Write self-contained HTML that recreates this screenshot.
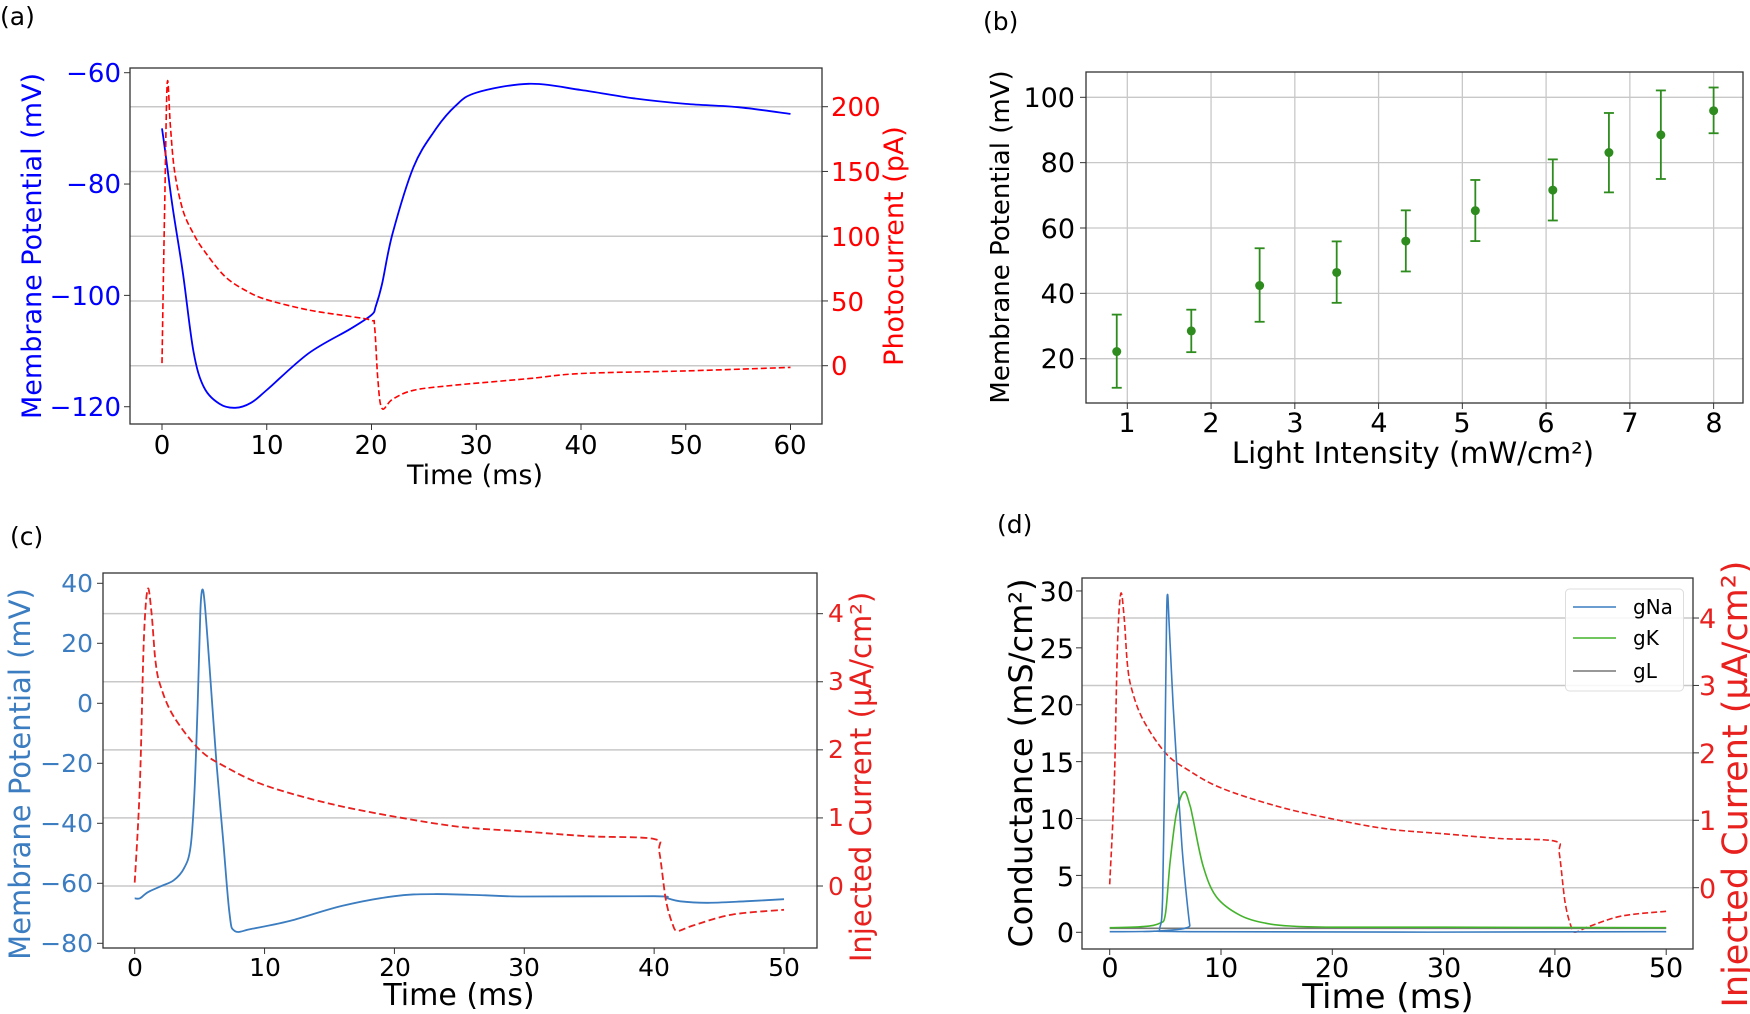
<!DOCTYPE html>
<html><head><meta charset="utf-8"><style>
html,body{margin:0;padding:0;background:#fff;}
svg{display:block;font-family:"DejaVu Sans","Liberation Sans",sans-serif;}
</style></head><body>
<svg id="s" width="1750" height="1014" viewBox="0 0 1750 1014" xmlns="http://www.w3.org/2000/svg">
<rect width="1750" height="1014" fill="#fff"/>
<text x="0" y="25" font-size="25">(a)</text>
<text x="983" y="30" font-size="25">(b)</text>
<text x="10" y="545" font-size="25">(c)</text>
<text x="997" y="533" font-size="25">(d)</text>

<!-- (a) -->
<g id="ga"></g>
<rect x="130" y="68" width="692" height="356" fill="none" stroke="#333" stroke-width="1.3"/>
<g font-size="26" fill="#0000ff" text-anchor="end">
<text x="121" y="82">−60</text><text x="121" y="193">−80</text><text x="121" y="305">−100</text><text x="121" y="416">−120</text>
</g>
<g font-size="26" fill="#ff0000">
<text x="831" y="116">200</text><text x="831" y="181">150</text><text x="831" y="246">100</text><text x="831" y="311">50</text><text x="831" y="375">0</text>
</g>
<g font-size="26" text-anchor="middle">
<text x="162" y="454">0</text><text x="267" y="454">10</text><text x="371" y="454">20</text><text x="476" y="454">30</text><text x="581" y="454">40</text><text x="686" y="454">50</text><text x="790" y="454">60</text>
</g>
<text x="475" y="484" font-size="27" text-anchor="middle">Time (ms)</text>
<text transform="translate(41,246) rotate(-90)" font-size="27" fill="#0000ff" text-anchor="middle">Membrane Potential (mV)</text>
<text transform="translate(903,246) rotate(-90)" font-size="27" fill="#ff0000" text-anchor="middle">Photocurrent (pA)</text>

<!-- (b) -->
<g id="gb"></g>
<rect x="1086" y="72" width="657" height="331" fill="none" stroke="#333" stroke-width="1.3"/>
<g font-size="27" text-anchor="end">
<text x="1075" y="107">100</text><text x="1075" y="172">80</text><text x="1075" y="238">60</text><text x="1075" y="303">40</text><text x="1075" y="368">20</text>
</g>
<g font-size="27" text-anchor="middle">
<text x="1127" y="432">1</text><text x="1211" y="432">2</text><text x="1295" y="432">3</text><text x="1379" y="432">4</text><text x="1462" y="432">5</text><text x="1546" y="432">6</text><text x="1630" y="432">7</text><text x="1714" y="432">8</text>
</g>
<text x="1413" y="463" font-size="29" text-anchor="middle">Light Intensity (mW/cm²)</text>
<text transform="translate(1009,237) rotate(-90)" font-size="26" text-anchor="middle">Membrane Potential (mV)</text>

<!-- (c) -->
<g id="gc"></g>
<rect x="103" y="573" width="714" height="375" fill="none" stroke="#333" stroke-width="1.3"/>
<g font-size="25" fill="#3b7dc0" text-anchor="end">
<text x="93" y="592">40</text><text x="93" y="652">20</text><text x="93" y="712">0</text><text x="93" y="772">−20</text><text x="93" y="832">−40</text><text x="93" y="892">−60</text><text x="93" y="952">−80</text>
</g>
<g font-size="25" fill="#e8201e">
<text x="828" y="622">4</text><text x="828" y="690">3</text><text x="828" y="758">2</text><text x="828" y="826">1</text><text x="828" y="895">0</text>
</g>
<g font-size="25" text-anchor="middle">
<text x="135" y="976">0</text><text x="265" y="976">10</text><text x="395" y="976">20</text><text x="524" y="976">30</text><text x="654" y="976">40</text><text x="784" y="976">50</text>
</g>
<text x="459" y="1005" font-size="30" text-anchor="middle">Time (ms)</text>
<text transform="translate(30,774) rotate(-90)" font-size="29" fill="#3b7dc0" text-anchor="middle">Membrane Potential (mV)</text>
<text transform="translate(871,777) rotate(-90)" font-size="29" fill="#e8201e" text-anchor="middle">Injected Current (µA/cm²)</text>

<!-- (d) -->
<g id="gd"></g>
<rect x="1082" y="578" width="611" height="371" fill="none" stroke="#333" stroke-width="1.3"/>
<g font-size="27" text-anchor="end">
<text x="1074" y="601">30</text><text x="1074" y="658">25</text><text x="1074" y="715">20</text><text x="1074" y="772">15</text><text x="1074" y="829">10</text><text x="1074" y="886">5</text><text x="1074" y="942">0</text>
</g>
<g font-size="27" fill="#e8201e">
<text x="1699" y="628">4</text><text x="1699" y="695">3</text><text x="1699" y="763">2</text><text x="1699" y="830">1</text><text x="1699" y="898">0</text>
</g>
<g font-size="27" text-anchor="middle">
<text x="1110" y="977">0</text><text x="1221" y="977">10</text><text x="1332" y="977">20</text><text x="1444" y="977">30</text><text x="1555" y="977">40</text><text x="1666" y="977">50</text>
</g>
<text x="1388" y="1008" font-size="34" text-anchor="middle">Time (ms)</text>
<text transform="translate(1032,763) rotate(-90)" font-size="32" text-anchor="middle">Conductance (mS/cm²)</text>
<text transform="translate(1747,784) rotate(-90)" font-size="35" fill="#e8201e" text-anchor="middle">Injected Current (µA/cm²)</text>
<rect x="1565.5" y="589" width="118" height="102" rx="4" fill="#fff" fill-opacity="0.85" stroke="#ddd"/>
<line x1="1573" y1="607" x2="1616" y2="607" stroke="#3b7dc0" stroke-width="1.6"/>
<line x1="1573" y1="638" x2="1616" y2="638" stroke="#44b32c" stroke-width="1.6"/>
<line x1="1573" y1="671" x2="1616" y2="671" stroke="#777" stroke-width="1.6"/>
<g font-size="20"><text x="1633" y="614">gNa</text><text x="1633" y="645">gK</text><text x="1633" y="678">gL</text></g>
</svg>
<script>
var NS="http://www.w3.org/2000/svg";
function el(p,t,a){var e=document.createElementNS(NS,t);for(var k in a)e.setAttribute(k,a[k]);p.appendChild(e);return e;}
function path(pts,fx,fy){
  var P=pts.map(function(p){return [fx(p[0]),fy(p[1])];});
  var d="M"+P[0][0].toFixed(1)+","+P[0][1].toFixed(1);
  for(var i=0;i<P.length-1;i++){
    var p0=P[i>0?i-1:i],p1=P[i],p2=P[i+1],p3=P[i+2<P.length?i+2:i+1];
    var c1=[p1[0]+(p2[0]-p0[0])/6,p1[1]+(p2[1]-p0[1])/6],c2=[p2[0]-(p3[0]-p1[0])/6,p2[1]-(p3[1]-p1[1])/6];
    d+="C"+c1[0].toFixed(1)+","+c1[1].toFixed(1)+" "+c2[0].toFixed(1)+","+c2[1].toFixed(1)+" "+p2[0].toFixed(1)+","+p2[1].toFixed(1);
  }
  return d;
}
var grid="#c8c8c8";
(function(){
 var g=document.getElementById("ga");
 var fx=function(t){return 162+t*10.475;},fy=function(v){return 72.7+(-60-v)*5.567;},fr=function(i){return 365.7-i*1.295;};
 [0,50,100,150,200].forEach(function(v){el(g,"line",{x1:130,x2:822,y1:fr(v),y2:fr(v),stroke:grid,"stroke-width":1.5});el(g,"line",{x1:822,x2:828,y1:fr(v),y2:fr(v),stroke:"#333"});});
 [-60,-80,-100,-120].forEach(function(v){el(g,"line",{x1:124,x2:130,y1:fy(v),y2:fy(v),stroke:"#333"});});
 [0,10,20,30,40,50,60].forEach(function(t){el(g,"line",{x1:fx(t),x2:fx(t),y1:424,y2:430,stroke:"#333"});});
 var V=[[0,-70],[0.3,-74],[1,-84],[2,-96],[3,-110],[4,-116.5],[5.5,-119.5],[7,-120.2],[8.5,-119.3],[10,-117],[14,-110.4],[18,-106],[20,-103.5],[20.4,-102],[21,-98],[22,-89],[24,-77],[26,-70.5],[28,-66],[30,-63.6],[35,-62],[40,-63.1],[45,-64.6],[50,-65.6],[55,-66.2],[60,-67.4]];
 el(g,"path",{d:path(V,fx,fy),fill:"none",stroke:"#0000ff","stroke-width":1.8});
 var I=[[0,2],[0.25,120],[0.5,218],[0.8,185],[1.2,150],[2,120],[3,102],[4,89],[6,69],[8,58],[10,51],[14,43],[18,38],[20,35],[20.3,30],[20.6,-10],[21,-33],[22,-26],[24,-19],[28,-15],[35,-10],[40,-6],[50,-4],[60,-1.3]];
 el(g,"path",{d:path(I,fx,fr),fill:"none",stroke:"#ff0000","stroke-width":1.6,"stroke-dasharray":"6,3"});
})();
(function(){
 var g=document.getElementById("gb");
 var fx=function(x){return 1127.3+(x-1)*83.76;},fy=function(v){return 97.3+(100-v)*3.2675;};
 [20,40,60,80,100].forEach(function(v){el(g,"line",{x1:1086,x2:1743,y1:fy(v),y2:fy(v),stroke:grid,"stroke-width":1.3});el(g,"line",{x1:1080,x2:1086,y1:fy(v),y2:fy(v),stroke:"#333"});});
 for(var k=1;k<=8;k++){el(g,"line",{x1:fx(k),x2:fx(k),y1:72,y2:403,stroke:grid,"stroke-width":1.3});el(g,"line",{x1:fx(k),x2:fx(k),y1:403,y2:409,stroke:"#333"});}
 var D=[[0.874,22.2,33.5,11.1],[1.764,28.5,35,22],[2.58,42.4,53.8,31.3],[3.5,46.4,55.9,37.1],[4.325,56,65.4,46.7],[5.155,65.3,74.7,56],[6.08,71.6,81,62.3],[6.75,83.1,95.2,70.9],[7.37,88.5,102.1,75],[8.0,95.9,103,89]];
 var c="#2e8b1e";
 D.forEach(function(d){var x=fx(d[0]);
  el(g,"line",{x1:x,x2:x,y1:fy(d[2]),y2:fy(d[3]),stroke:c,"stroke-width":1.8});
  el(g,"line",{x1:x-5,x2:x+5,y1:fy(d[2]),y2:fy(d[2]),stroke:c,"stroke-width":1.8});
  el(g,"line",{x1:x-5,x2:x+5,y1:fy(d[3]),y2:fy(d[3]),stroke:c,"stroke-width":1.8});
  el(g,"circle",{cx:x,cy:fy(d[1]),r:4.5,fill:c});});
})();
var Iinj=[[0,0.05],[0.4,1.5],[0.7,3.6],[1.0,4.36],[1.3,4.0],[1.6,3.3],[2,2.93],[3,2.49],[5,2.0],[7,1.75],[10,1.48],[15,1.21],[20,1.02],[25,0.87],[30,0.8],[35,0.73],[40,0.69],[40.4,0.5],[40.9,-0.2],[41.4,-0.55],[41.8,-0.66],[43,-0.58],[46,-0.42],[50,-0.35]];
(function(){
 var g=document.getElementById("gc");
 var fx=function(t){return 134.7+t*12.986;},fy=function(v){return 583.3+(40-v)*3.0;},fr=function(i){return 886-i*68.08;};
 [0,1,2,3,4].forEach(function(v){el(g,"line",{x1:103,x2:817,y1:fr(v),y2:fr(v),stroke:grid,"stroke-width":1.5});el(g,"line",{x1:817,x2:823,y1:fr(v),y2:fr(v),stroke:"#333"});});
 [40,20,0,-20,-40,-60,-80].forEach(function(v){el(g,"line",{x1:97,x2:103,y1:fy(v),y2:fy(v),stroke:"#333"});});
 [0,10,20,30,40,50].forEach(function(t){el(g,"line",{x1:fx(t),x2:fx(t),y1:948,y2:954,stroke:"#333"});});
 var V=[[0,-65],[0.4,-65],[1,-63],[2,-61],[3,-59],[3.8,-55],[4.3,-48],[4.6,-30],[4.85,0],[5.05,30],[5.2,37.8],[5.4,33],[5.8,10],[6.3,-20],[6.8,-45],[7.3,-70],[7.7,-75.9],[9,-75.2],[12,-72.5],[16,-67.5],[20,-64.3],[23,-63.6],[27,-64],[30,-64.4],[40,-64.3],[41,-65],[42,-66],[44,-66.5],[47,-66],[50,-65.3]];
 el(g,"path",{d:path(V,fx,fy),fill:"none",stroke:"#3b7dc0","stroke-width":1.8});
 el(g,"path",{d:path(Iinj,fx,fr),fill:"none",stroke:"#e8201e","stroke-width":1.8,"stroke-dasharray":"7,3.5"});
})();
(function(){
 var g=document.getElementById("gd");
 var fx=function(t){return 1109.7+t*11.13;},fy=function(v){return 932.3-v*11.378;},fr=function(i){return 887.7-i*67.42;};
 [0,1,2,3,4].forEach(function(v){el(g,"line",{x1:1082,x2:1693,y1:fr(v),y2:fr(v),stroke:grid,"stroke-width":1.5});el(g,"line",{x1:1693,x2:1699,y1:fr(v),y2:fr(v),stroke:"#333"});});
 [0,5,10,15,20,25,30].forEach(function(v){el(g,"line",{x1:1076,x2:1082,y1:fy(v),y2:fy(v),stroke:"#333"});});
 [0,10,20,30,40,50].forEach(function(t){el(g,"line",{x1:fx(t),x2:fx(t),y1:949,y2:955,stroke:"#333"});});
 el(g,"path",{d:path(Iinj,fx,fr),fill:"none",stroke:"#e8201e","stroke-width":1.6,"stroke-dasharray":"6,3"});
 el(g,"line",{x1:fx(0),x2:fx(50),y1:fy(0.35),y2:fy(0.35),stroke:"#777","stroke-width":1.6});
 var K=[[0,0.4],[3,0.5],[4.5,0.8],[5,1.6],[5.42,6.1],[6,10.5],[6.68,12.36],[7.2,11.2],[7.5,9.9],[8.4,5.8],[9.6,3.1],[11.7,1.5],[14,0.8],[16.2,0.55],[20,0.45],[30,0.45],[50,0.4]];
 el(g,"path",{d:path(K,fx,fy),fill:"none",stroke:"#44b32c","stroke-width":1.6});
 var N=[[0,0.05],[4,0.1],[4.5,0.4],[4.75,3],[4.95,15],[5.1,27],[5.2,29.7],[5.35,27],[5.7,20],[6.1,13.4],[6.5,7.5],[6.85,3.7],[7.2,0.6],[7.4,0.05],[50,0.05]];
 el(g,"path",{d:path(N,fx,fy),fill:"none",stroke:"#3b7dc0","stroke-width":1.6});
})();
</script>
</body></html>
